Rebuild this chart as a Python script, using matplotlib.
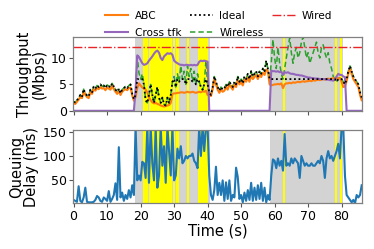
import numpy as np
import matplotlib
matplotlib.use("Agg")
import matplotlib.pyplot as plt

# ---- data (0.5 s sampling, t = 0 .. 86 s) ----
wireless = [
    1.7, 1.6, 2.0, 2.4, 3.0, 2.6, 4.1, 3.3, 2.9, 2.7,
    4.0, 3.5, 4.6, 4.2, 4.8, 4.5, 5.0, 4.6, 4.8, 4.3,
    4.9, 4.7, 4.4, 5.2, 4.6, 4.0, 3.6, 4.2, 3.3, 4.0,
    4.3, 4.6, 4.3, 4.8, 5.0, 3.2, 2.2, 3.0, 10.2, 7.2,
    6.0, 7.0, 5.0, 2.0, 1.5, 3.0, 5.0, 3.0, 1.5, 3.0,
    4.5, 2.5, 1.5, 2.5, 1.2, 1.0, 2.5, 1.5, 3.0, 5.5,
    6.5, 4.5, 7.0, 5.5, 8.5, 6.0, 7.5, 5.0, 8.5, 6.5,
    8.0, 5.5, 7.5, 5.0, 7.0, 5.5, 4.5, 4.0, 5.0, 9.5,
    5.0, 3.5, 3.0, 4.5, 6.5, 5.5, 4.5, 3.8, 4.5, 4.0,
    4.2, 5.0, 4.5, 5.5, 5.0, 4.5, 5.5, 5.0, 6.5, 5.5,
    6.0, 5.2, 6.5, 6.0, 7.0, 6.0, 7.5, 6.5, 7.0, 7.5,
    6.5, 7.5, 7.0, 8.0, 7.5, 9.5, 8.0, 6.0, 9.0, 13.5,
    10.0, 8.0, 12.0, 9.0, 7.0, 6.0, 8.0, 10.0, 12.0, 13.8,
    11.0, 9.0, 11.0, 12.0, 10.0, 11.0, 13.0, 14.0, 12.0, 10.0,
    11.0, 9.0, 10.0, 11.0, 12.0, 13.0, 11.0, 10.0, 12.0, 12.5,
    11.0, 10.0, 11.0, 9.0, 8.0, 6.5, 6.0, 5.5, 6.0, 6.5,
    6.0, 5.5, 5.0, 6.0, 7.5, 8.5, 7.5, 6.5, 6.0, 5.5,
    5.0, 3.5, 2.5,
]
ideal = [
    1.7, 1.6, 2.0, 2.4, 3.0, 2.6, 4.1, 3.3, 2.9, 2.7,
    4.0, 3.5, 4.6, 4.2, 4.8, 4.5, 5.0, 4.6, 4.8, 4.3,
    4.9, 4.7, 4.4, 5.2, 4.6, 4.0, 3.6, 4.2, 3.3, 4.0,
    4.3, 4.6, 4.3, 4.8, 5.0, 3.2, 2.2, 3.0, 6.0, 6.0,
    6.0, 6.0, 5.0, 2.0, 1.5, 3.0, 5.0, 3.0, 1.5, 3.0,
    4.5, 2.5, 1.5, 2.5, 1.2, 1.0, 2.5, 1.5, 3.0, 5.5,
    6.0, 4.5, 6.0, 5.5, 6.0, 6.0, 6.0, 5.0, 6.0, 6.0,
    6.0, 5.5, 6.0, 5.0, 6.0, 5.5, 4.5, 4.0, 5.0, 6.0,
    5.0, 3.5, 3.0, 4.5, 6.5, 5.5, 4.5, 3.8, 4.5, 4.0,
    4.2, 5.0, 4.5, 5.5, 5.0, 4.5, 5.5, 5.0, 6.5, 5.5,
    6.0, 5.2, 6.5, 6.0, 7.0, 6.0, 7.5, 6.5, 7.0, 7.5,
    6.5, 7.5, 7.0, 8.0, 7.5, 9.5, 8.0, 6.0, 6.0, 6.0,
    6.0, 6.0, 6.0, 6.0, 6.0, 6.0, 6.0, 6.0, 6.0, 6.0,
    6.0, 6.0, 6.0, 6.0, 6.0, 6.0, 6.0, 6.0, 6.0, 6.0,
    6.0, 6.0, 6.0, 6.0, 6.0, 6.0, 6.0, 6.0, 6.0, 6.0,
    6.0, 6.0, 6.0, 6.0, 6.0, 6.0, 6.0, 5.5, 6.0, 6.0,
    6.0, 5.5, 5.0, 6.0, 7.5, 8.5, 7.5, 6.5, 6.0, 5.5,
    5.0, 3.5, 2.5,
]
abc = [
    1.4, 1.3, 1.7, 2.1, 2.6, 2.4, 3.6, 3.0, 2.6, 2.4,
    3.5, 3.2, 4.1, 3.8, 4.3, 4.1, 4.5, 4.2, 4.3, 3.9,
    4.4, 4.2, 4.0, 4.7, 4.1, 3.6, 3.2, 3.7, 3.0, 3.6,
    3.9, 4.1, 3.9, 4.3, 4.4, 2.9, 1.9, 2.6, 4.3, 5.2,
    4.8, 4.4, 4.2, 4.0, 3.5, 2.5, 2.0, 1.6, 1.4, 1.5,
    1.3, 1.2, 1.0, 0.9, 0.8, 0.9, 1.0, 1.1, 1.5, 3.2,
    3.3, 3.3, 3.4, 3.4, 3.5, 3.5, 3.4, 3.5, 3.6, 3.5,
    3.5, 3.6, 3.5, 3.4, 3.5, 3.6, 3.5, 3.7, 3.6, 3.8,
    3.0, 3.2, 2.8, 4.0, 6.0, 5.0, 4.0, 3.4, 4.0, 3.6,
    3.8, 4.5, 4.0, 5.0, 4.5, 4.0, 5.0, 4.5, 5.8, 5.0,
    5.4, 4.8, 5.9, 5.5, 6.3, 5.5, 6.7, 6.0, 6.4, 6.8,
    6.0, 6.8, 6.4, 7.2, 6.8, 7.8, 7.5, 5.0, 4.8, 4.9,
    5.0, 5.0, 5.1, 5.0, 5.2, 4.3, 5.0, 5.2, 5.2, 5.3,
    5.2, 5.4, 5.3, 5.4, 5.5, 5.4, 5.5, 5.6, 5.5, 5.6,
    5.6, 5.7, 5.6, 5.8, 5.7, 5.8, 5.9, 5.8, 5.9, 6.0,
    5.9, 6.0, 6.1, 6.0, 6.1, 6.2, 6.0, 6.3, 6.1, 6.2,
    5.5, 4.5, 4.6, 5.6, 7.0, 8.0, 7.0, 6.0, 5.5, 5.0,
    4.5, 3.0, 2.0,
]
cross = [
    0, 0, 0, 0, 0, 0, 0, 0, 0, 0,
    0, 0, 0, 0, 0, 0, 0, 0, 0, 0,
    0, 0, 0, 0, 0, 0, 0, 0, 0, 0,
    0, 0, 0, 0, 0, 0, 0, 4.0, 10.5, 10.2,
    9.6, 9.0, 8.7, 8.8, 9.0, 9.5, 9.9, 10.3, 10.8, 11.2,
    11.4, 11.0, 10.0, 9.6, 10.3, 10.6, 10.9, 10.8, 10.9, 10.6,
    9.5, 9.2, 9.0, 8.8, 8.7, 8.7, 8.6, 8.7, 8.7, 8.6,
    8.7, 8.6, 8.7, 8.6, 8.7, 9.3, 9.5, 9.4, 9.5, 9.4,
    9.3, 0, 0, 0, 0, 0, 0, 0, 0, 0,
    0, 0, 0, 0, 0, 0, 0, 0, 0, 0,
    0, 0, 0, 0, 0, 0, 0, 0, 0, 0,
    0, 0, 0, 0, 0, 0, 0, 0, 7.6, 7.5,
    7.5, 7.4, 7.5, 7.3, 7.4, 6.8, 7.3, 7.2, 7.3, 7.1,
    7.0, 7.0, 6.9, 6.8, 6.8, 6.7, 6.7, 6.6, 6.5, 6.4,
    6.3, 6.3, 6.2, 6.2, 6.1, 6.1, 6.1, 6.0, 6.0, 6.0,
    6.0, 5.9, 5.9, 5.8, 5.8, 5.7, 5.9, 6.5, 7.0, 6.8,
    6.8, 6.5, 6.4, 0, 0, 0, 0, 0, 0, 0,
    0, 0, 0,
]
wired = 12.0
delay = [
    10, 8, 6, 38, 8, 5, 15, 35, 6, 5,
    5, 5, 6, 10, 18, 15, 8, 6, 15, 12,
    8, 28, 6, 12, 20, 44, 10, 118, 15, 25,
    8, 20, 12, 30, 15, 40, 20, 160, 50, 60,
    50, 88, 85, 55, 160, 45, 160, 85, 50, 160,
    35, 60, 160, 80, 120, 45, 160, 110, 60, 160,
    50, 60, 115, 95, 120, 85, 90, 100, 95, 100,
    100, 105, 90, 85, 75, 160, 100, 160, 110, 160,
    160, 60, 20, 10, 30, 78, 20, 45, 20, 50,
    8, 46, 12, 50, 8, 20, 15, 76, 57, 12,
    20, 5, 25, 8, 30, 10, 45, 8, 35, 10,
    40, 12, 45, 8, 35, 5, 20, 10, 60, 93,
    90, 75, 95, 80, 90, 70, 145, 80, 85, 80,
    95, 85, 95, 90, 85, 55, 100, 90, 80, 85,
    80, 80, 85, 80, 80, 85, 90, 85, 100, 90,
    55, 95, 110, 95, 100, 90, 100, 110, 125, 95,
    160, 160, 60, 20, 15, 10, 5, 10, 3, 20,
    15, 20, 40,
]
gray_spans = [(18.4, 40.6), (58.6, 80.4)]
yellow_spans = [(20.6, 22.3), (22.6, 29.3), (29.7, 30.2), (30.6, 31.4),
                (33.8, 34.3), (37.0, 40.2), (62.5, 63.0), (78.0, 78.5), (79.6, 80.1)]
xticks = [0, 10, 20, 30, 40, 50, 60, 70, 80]

dt = 0.5
def tt(s):
    return np.arange(len(s)) * dt

fig = plt.figure(figsize=(3.74, 2.49), dpi=100)
ax1 = fig.add_axes([0.195, 0.555, 0.773, 0.297])
ax2 = fig.add_axes([0.195, 0.1835, 0.773, 0.294])

for ax in (ax1, ax2):
    for a, b in gray_spans:
        ax.axvspan(a, b, color='#d3d3d3', lw=0, zorder=0)
    for a, b in yellow_spans:
        ax.axvspan(a, b, color='#ffff00', lw=0, zorder=0.5)

l_abc, = ax1.plot(tt(abc), abc, color='#ff7f0e', lw=1.5, zorder=3)
l_cross, = ax1.plot(tt(cross), cross, color='#9467bd', lw=1.5, zorder=3)
l_wl, = ax1.plot(tt(wireless), wireless, color='#2ca02c', lw=1.1, ls=(0, (3.5, 2)), zorder=2)
l_id, = ax1.plot(tt(ideal), ideal, color='black', lw=1.3, ls=(0, (1, 1.5)), zorder=4)
l_wd = ax1.axhline(wired, color='#e8262a', lw=1.0, ls='-.', zorder=2)

ax1.set_ylim(0, 14)
ax1.set_yticks([0, 5, 10])
ax1.set_xlim(-0.2, 86.1)
ax1.set_xticks(xticks)
ax1.set_xticklabels([])
ax1.set_ylabel('Throughput\n(Mbps)', fontsize=10.5, labelpad=3, linespacing=1.0)

ax2.plot(tt(delay), delay, color='#1f77b4', lw=1.5, zorder=3)
ax2.set_ylim(3, 153)
ax2.set_yticks([50, 100, 150])
ax2.set_xlim(-0.2, 86.1)
ax2.set_xticks(xticks)
ax2.set_ylabel('Queuing\nDelay (ms)', fontsize=10.5, labelpad=3, linespacing=1.0)
ax2.set_xlabel('Time (s)', fontsize=10.5, labelpad=1)

for ax in (ax1, ax2):
    ax.tick_params(labelsize=9, length=3, width=0.8, pad=1.5, color='#555555')
    for s in ax.spines.values():
        s.set_color('#808080')
        s.set_linewidth(0.9)
        s.set_zorder(5)

fig.legend([l_abc, l_cross, l_id, l_wl, l_wd],
           ['ABC', 'Cross tfk', 'Ideal', 'Wireless', 'Wired'],
           ncol=3, fontsize=7.6, frameon=False,
           loc='upper left', bbox_to_anchor=(0.27, 0.972),
           handlelength=2.2, handletextpad=0.6, columnspacing=0.8,
           labelspacing=0.6, borderaxespad=0)

fig.savefig('out.png', dpi=100)
